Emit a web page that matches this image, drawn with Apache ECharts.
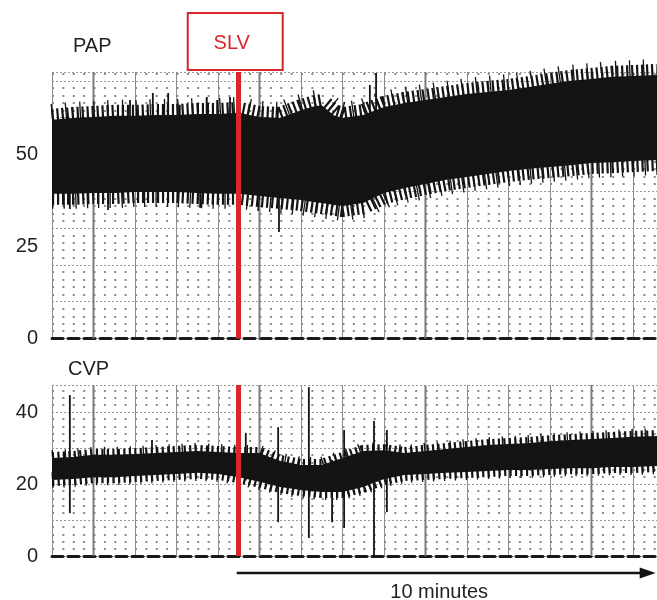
<!DOCTYPE html>
<html>
<head>
<meta charset="utf-8">
<title>PAP / CVP</title>
<script src="https://cdn.jsdelivr.net/npm/echarts@6/dist/echarts.min.js"></script>
<style>
  html, body { margin: 0; padding: 0; background: #fff; }
  #chart { width: 657px; height: 600px; }
</style>
</head>
<body>
<div id="chart"></div>
<script>
// time in minutes from the start of the strip; SLV given at 4.5 min
var slvTime = 4.5;
var arrowEnd = 14.5;      // 10 minutes after SLV
var stripEnd = 14.58;
var majorLines = [1, 5, 9, 13];

// PAP band (mmHg): solid upper / lower edge of the trace
var papTime = [0, 0.5, 1, 1.5, 2, 2.5, 3, 3.5, 4, 4.5, 5, 5.5, 6, 6.3, 6.5, 6.8, 7, 7.5, 8, 8.5, 9, 9.5, 10, 10.5, 11, 11.5, 12, 12.5, 13, 13.5, 14, 14.58];
var papHigh = [59.4, 59.9, 60.2, 60.5, 60.5, 60.7, 60.7, 61.0, 61.0, 61.3, 60.2, 59.9, 62.0, 63.0, 63.4, 60.6, 59.9, 60.7, 62.9, 64.0, 64.8, 65.6, 66.4, 67.0, 67.5, 68.3, 69.2, 70.0, 70.5, 71.1, 71.3, 71.6];
var papLow = [39.3, 39.3, 39.5, 39.5, 39.8, 39.8, 39.8, 39.5, 39.3, 39.3, 38.7, 38.2, 37.6, 37.1, 36.8, 36.3, 36.0, 36.8, 39.5, 40.9, 42.0, 43.1, 43.9, 44.7, 45.5, 46.1, 46.6, 47.1, 47.7, 47.9, 48.2, 48.5];
// PAP artefact spikes
var papSpikeTime = [0.43, 1.35, 1.88, 2.43, 2.80, 3.08, 3.57, 3.73, 3.98, 4.29, 5.47, 7.66, 7.81];
var papSpikeLow = [35.2, 34.9, 55, 55, 55, 55, 35.5, 55, 55, 55, 28.9, 55, 55];
var papSpikeHigh = [45, 45, 64.8, 66.7, 66.7, 63.5, 45, 65.6, 64.8, 65.6, 45, 68.9, 72.1];

// CVP band
var cvpTime = [0, 0.5, 1, 1.5, 2, 2.5, 3, 3.5, 4, 4.5, 5, 5.5, 6, 6.5, 7, 7.5, 8, 8.5, 9, 9.5, 10, 10.5, 11, 11.5, 12, 12.5, 13, 13.5, 14, 14.58];
var cvpHigh = [27.2, 27.5, 28.1, 28.1, 28.3, 28.6, 28.9, 29.2, 28.9, 28.6, 28.6, 26.4, 25.3, 25.3, 27.2, 29.2, 29.4, 28.6, 29.2, 29.7, 30.3, 30.8, 31.1, 31.4, 31.9, 32.2, 32.5, 32.8, 33.1, 33.3];
var cvpLow = [21.1, 21.4, 21.9, 21.9, 22.2, 22.5, 22.8, 23.1, 22.8, 21.9, 20.6, 19.2, 18.3, 17.8, 17.8, 19.2, 21.4, 22.5, 22.8, 23.1, 23.3, 23.6, 23.9, 23.9, 24.2, 24.4, 24.4, 24.7, 24.7, 25.0];
var cvpSpikeTime = [0.43, 2.41, 4.67, 5.45, 6.19, 6.75, 7.04, 7.76, 8.07];
var cvpSpikeLow = [11.9, 25, 21, 9.4, 5.0, 9.4, 7.8, 0, 12.2];
var cvpSpikeHigh = [44.7, 32.2, 34.2, 35.8, 46.9, 26.7, 35.0, 37.5, 35.0];

var papMax = 72.4, cvpMax = 47.5;
var ink = '#141414';
var red = '#d7262c';
var font = "'Liberation Sans', Arial, sans-serif";

var chart = echarts.init(document.getElementById('chart'));

function pairs(ts, vs) {
    return ts.map(function (t, i) { return [t, vs[i]]; });
}
function triples(ts, lo, hi) {
    return ts.map(function (t, i) { return [t, lo[i], hi[i]]; });
}

// filled black band between the two edges
function bandItem(ts, hi, lo) {
    return function (params, api) {
        var pts = [];
        for (var i = 0; i < ts.length; i++) pts.push(api.coord([ts[i], hi[i]]));
        for (var j = ts.length - 1; j >= 0; j--) pts.push(api.coord([ts[j], lo[j]]));
        return {type: 'polygon', shape: {points: pts}, style: {fill: ink}};
    };
}
function spikeItem(params, api) {
    var a = api.coord([api.value(0), api.value(1)]);
    var b = api.coord([api.value(0), api.value(2)]);
    return {type: 'line', shape: {x1: a[0], y1: a[1], x2: b[0], y2: b[1]}, style: {stroke: ink, lineWidth: 1.8}};
}
function majorItem(params, api) {
    var x = api.coord([api.value(0), 0])[0];
    var cs = params.coordSys;
    return {type: 'line', shape: {x1: x, y1: cs.y, x2: x, y2: cs.y + cs.height}, style: {stroke: '#7c7c7c', lineWidth: 2}};
}
// comb-like jagged edge of the trace
function teeth(xi, yi, data, width, dash) {
    return {
        type: 'line', xAxisIndex: xi, yAxisIndex: yi, data: data, z: 3, clip: false,
        showSymbol: false, silent: true,
        lineStyle: {color: ink, width: width, type: dash, cap: 'butt', join: 'bevel'}
    };
}

function panelXAxis(gi) {
    return {
        gridIndex: gi, type: 'value', min: 0, max: stripEnd, interval: 1,
        axisLabel: {show: false}, axisTick: {show: false},
        axisLine: {show: true, onZero: false, lineStyle: {color: '#1a1a1a', width: 3, type: [11, 5]}},
        splitLine: {show: true, lineStyle: {color: '#8c8c8c', width: 1}}
    };
}
function paperYAxis(gi, max) {
    return {
        gridIndex: gi, type: 'value', min: 0, max: max, interval: 10,
        axisLabel: {show: false}, axisTick: {show: false}, axisLine: {show: false},
        splitLine: {show: true, lineStyle: {color: '#999', width: 1, type: [2, 2]}},
        minorTick: {show: false, splitNumber: 5},
        minorSplitLine: {show: true, lineStyle: {color: '#8a8a8a', width: 2, type: [2, 8.375]}}
    };
}
var labelStyle = {fontSize: 20, color: '#231f20', fontFamily: font, margin: 14, showMaxLabel: false};

var redLine = function (lo, hi) {
    return {
        silent: true, symbol: 'none', label: {show: false},
        lineStyle: {color: red, width: 5, type: 'solid'},
        emphasis: {disabled: true},
        data: [[{coord: [slvTime, lo]}, {coord: [slvTime, hi]}]]
    };
};

var option = {
    animation: false,
    title: [
        {text: 'PAP', left: 68, top: 31, textStyle: {fontSize: 20, fontWeight: 'normal', color: '#231f20', fontFamily: font}},
        {text: 'CVP', left: 63, top: 354, textStyle: {fontSize: 20, fontWeight: 'normal', color: '#231f20', fontFamily: font}}
    ],
    grid: [
        {left: 52, right: 0, top: 72, bottom: 261.5},
        {left: 52, right: 0, top: 385, bottom: 44}
    ],
    xAxis: [panelXAxis(0), panelXAxis(1)],
    yAxis: [
        paperYAxis(0, papMax),
        {gridIndex: 0, type: 'value', position: 'left', min: 0, max: papMax, interval: 25,
            axisLabel: labelStyle, axisTick: {show: false}, axisLine: {show: false}, splitLine: {show: false}},
        echarts.util.merge(paperYAxis(1, cvpMax), {
            axisLabel: echarts.util.merge({
                show: true,
                formatter: function (v) { return v % 20 === 0 ? String(v) : ''; }
            }, labelStyle)
        }, true)
    ],
    series: [
        // PAP panel
        {type: 'custom', xAxisIndex: 0, yAxisIndex: 0, z: 1, silent: true, renderItem: majorItem,
            data: majorLines.map(function (t) { return [t, 0]; })},
        {type: 'custom', xAxisIndex: 0, yAxisIndex: 0, z: 2, silent: true, clip: false,
            renderItem: bandItem(papTime, papHigh, papLow), data: [[papTime[0], papLow[0]]]},
        echarts.util.extend(teeth(0, 0, pairs(papTime, papHigh), 22, [2.2, 2.8]), {markLine: redLine(0, papMax)}),
        teeth(0, 0, pairs(papTime, papHigh), 32, [1.3, 12.7]),
        teeth(0, 0, pairs(papTime, papLow), 22, [2.2, 2.8]),
        teeth(0, 0, pairs(papTime, papLow), 30, [1.3, 10.2]),
        {type: 'custom', xAxisIndex: 0, yAxisIndex: 0, z: 3, silent: true, renderItem: spikeItem,
            data: triples(papSpikeTime, papSpikeLow, papSpikeHigh)},

        // CVP panel
        {type: 'custom', xAxisIndex: 1, yAxisIndex: 2, z: 1, silent: true, renderItem: majorItem,
            data: majorLines.map(function (t) { return [t, 0]; })},
        {type: 'custom', xAxisIndex: 1, yAxisIndex: 2, z: 2, silent: true, clip: false,
            renderItem: bandItem(cvpTime, cvpHigh, cvpLow), data: [[cvpTime[0], cvpLow[0]]]},
        echarts.util.extend(teeth(1, 2, pairs(cvpTime, cvpHigh), 12, [2.2, 3.3]), {markLine: redLine(0, cvpMax)}),
        teeth(1, 2, pairs(cvpTime, cvpHigh), 16, [1.3, 11.7]),
        teeth(1, 2, pairs(cvpTime, cvpLow), 12, [2.2, 3.3]),
        teeth(1, 2, pairs(cvpTime, cvpLow), 16, [1.3, 9.7]),
        {type: 'custom', xAxisIndex: 1, yAxisIndex: 2, z: 3, silent: true, renderItem: spikeItem,
            data: triples(cvpSpikeTime, cvpSpikeLow, cvpSpikeHigh)}
    ]
};
chart.setOption(option);

// SLV box and the 10 minute arrow, placed from the axis scale
var pSlv = chart.convertToPixel({gridIndex: 0}, [slvTime, papMax]);
var a0 = chart.convertToPixel({gridIndex: 1}, [slvTime, 0]);
var a1 = chart.convertToPixel({gridIndex: 1}, [arrowEnd, 0]);
var ay = a0[1] + 17;
chart.setOption({
    graphic: [
        {type: 'rect', shape: {x: pSlv[0] - 51, y: 13, width: 95, height: 57},
            style: {fill: '#fff', stroke: red, lineWidth: 2}, z: 10},
        {type: 'text', x: pSlv[0] - 7, y: 43, z: 11,
            style: {text: 'SLV', fill: red, font: '20px ' + font, align: 'center', verticalAlign: 'middle'}},
        {type: 'line', shape: {x1: a0[0] - 2, y1: ay, x2: a1[0] - 6, y2: ay},
            style: {stroke: ink, lineWidth: 2.5}, z: 10},
        {type: 'polygon', shape: {points: [[a1[0] - 14, ay - 5.5], [a1[0] + 2, ay], [a1[0] - 14, ay + 5.5]]},
            style: {fill: ink}, z: 10},
        {type: 'text', x: (a0[0] + a1[0]) / 2 - 7, y: ay + 19, z: 11,
            style: {text: '10 minutes', fill: '#231f20', font: '20px ' + font, align: 'center', verticalAlign: 'middle'}}
    ]
});
</script>
</body>
</html>
